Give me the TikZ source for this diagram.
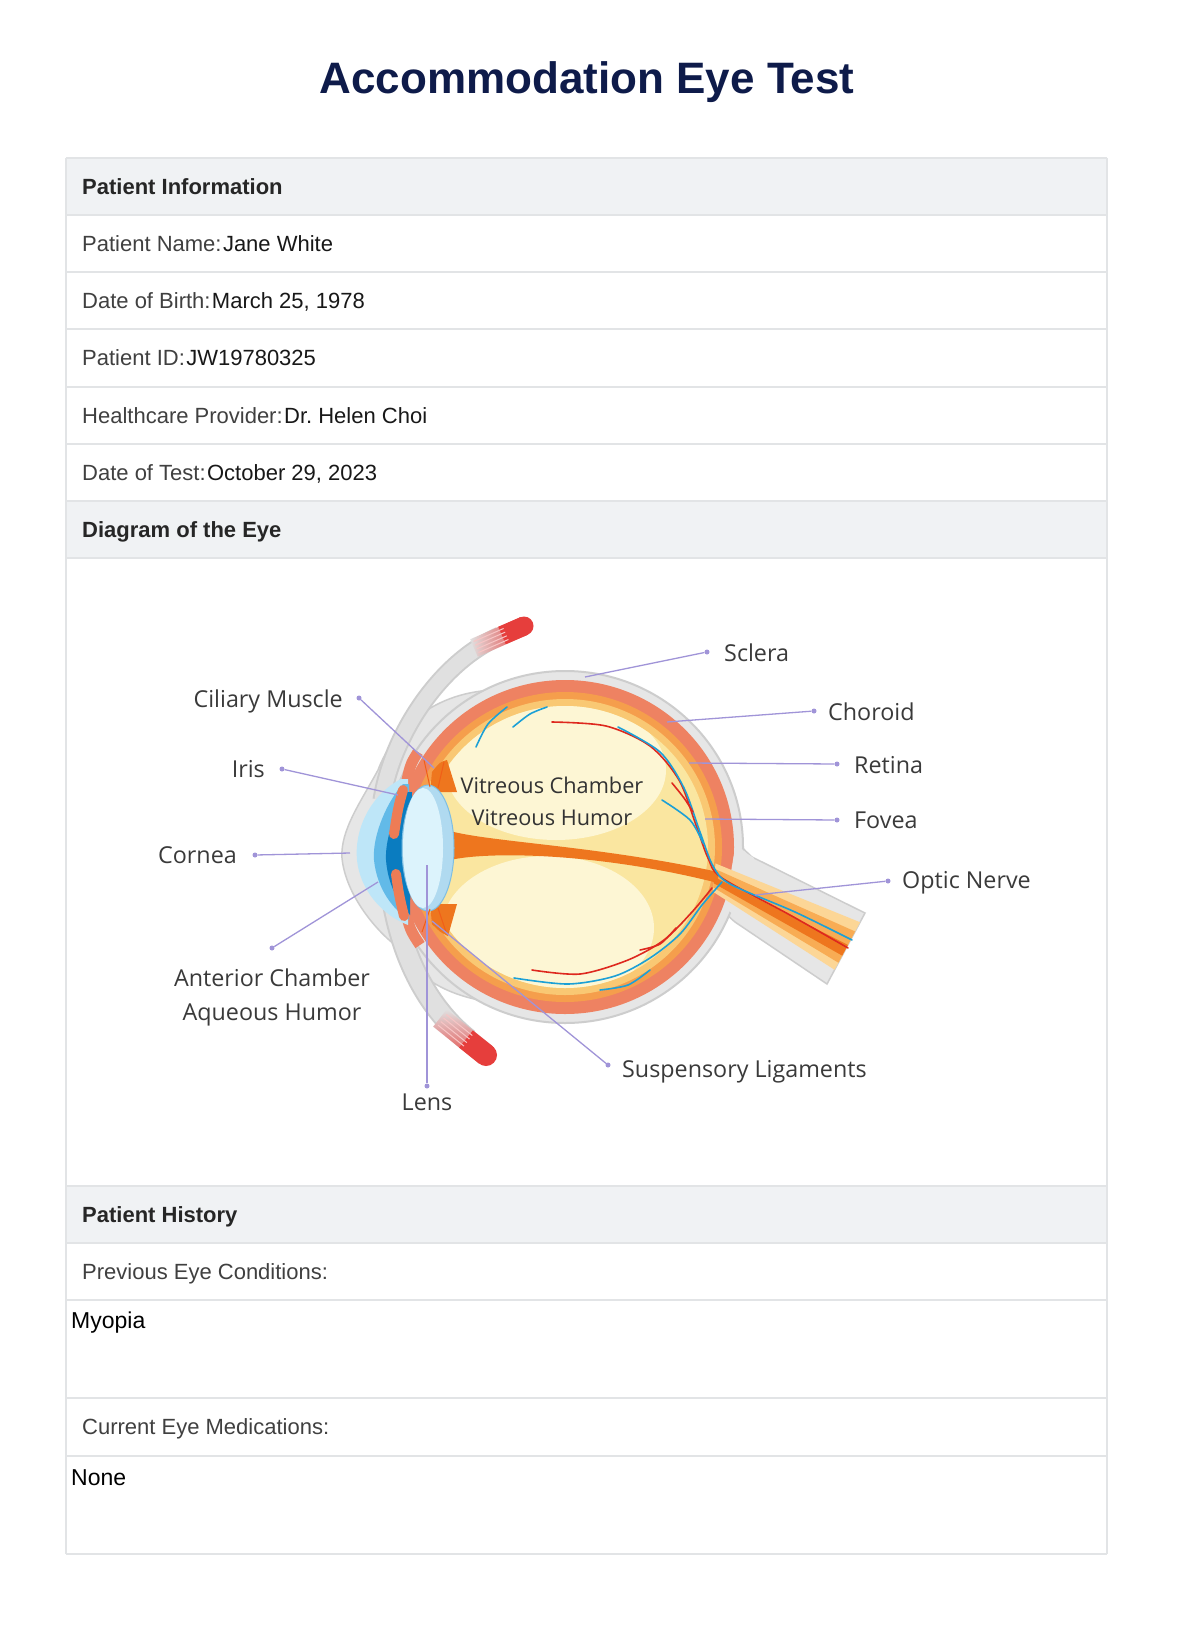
\documentclass[tikz,border=0pt]{standalone}
\usepackage{fontspec}
\setmainfont{Liberation Sans}
\newfontfamily\eyefont{Open Sans}
\usetikzlibrary{calc}

\definecolor{titleblue}{RGB}{14,27,74}
\definecolor{bandfill}{RGB}{240,242,244}
\definecolor{rulegray}{RGB}{226,228,230}
\definecolor{labelgray}{RGB}{64,64,64}
\definecolor{valueblack}{RGB}{24,24,24}
\definecolor{leaderpurple}{RGB}{160,148,216}
\definecolor{eyetext}{RGB}{58,58,58}
\definecolor{sclgray}{RGB}{205,205,205}
\definecolor{sclfill}{RGB}{230,230,230}
\definecolor{choroidred}{RGB}{238,130,98}
\definecolor{layerorange}{RGB}{245,158,76}
\definecolor{retinaorange}{RGB}{249,200,115}
\definecolor{vitreous}{RGB}{250,230,160}
\definecolor{vitreouslight}{RGB}{253,246,212}
\definecolor{bandorange}{RGB}{238,118,30}
\definecolor{nervelight}{RGB}{252,214,150}
\definecolor{nerveorange}{RGB}{248,172,84}
\definecolor{corneablue}{RGB}{190,230,248}
\definecolor{midblue}{RGB}{98,186,232}
\definecolor{darkblue}{RGB}{10,124,192}
\definecolor{lensblue}{RGB}{220,243,252}
\definecolor{lensedge}{RGB}{176,218,240}
\definecolor{irisred}{RGB}{238,124,85}
\definecolor{musclered}{RGB}{230,62,60}
\definecolor{musclegray}{RGB}{224,224,224}
\definecolor{vesselred}{RGB}{222,40,30}
\definecolor{vesselblue}{RGB}{28,160,214}

\tikzset{
  rowline/.style={draw=rulegray, line width=1.5pt},
  headtext/.style={anchor=base west, inner sep=0pt, font=\fontsize{22}{26}\selectfont\bfseries, text=black!85},
  fieldtext/.style={anchor=base west, inner sep=0pt, font=\fontsize{22}{26}\selectfont, text=labelgray},
  valuetext/.style={anchor=base west, inner sep=0pt, font=\fontsize{22}{26}\selectfont, text=valueblack},
  notetext/.style={anchor=base west, inner sep=0pt, font=\fontsize{23}{27}\selectfont, text=black},
  partlabel/.style={inner sep=0pt, font=\eyefont\fontsize{23.3}{28}\selectfont, text=eyetext},
  innerlabel/.style={anchor=base, inner sep=0pt, font=\eyefont\fontsize{21.7}{26}\selectfont, text=black!80},
  leader/.style={draw=leaderpurple, line width=1.3pt},
  leaderdot/.style={circle, fill=leaderpurple, inner sep=0pt, minimum size=5pt},
  vessel/.style={line width=1.6pt, line cap=round},
  fibre/.style={white!70!musclered, line width=1pt},
}

\begin{document}
\begin{tikzpicture}[x=1pt, y=-1pt]
\useasboundingbox (0,0) rectangle (1176,1630);
\fill[white] (0,0) rectangle (1176,1630);

\node[anchor=base, inner sep=0pt, font=\fontsize{44}{52}\selectfont\bfseries, text=titleblue] (title) at (587,93) {Accommodation Eye Test};

% table frame
\fill[bandfill] (66,158) rectangle (1107,215);
\fill[bandfill] (66,501) rectangle (1107,558);
\fill[bandfill] (66,1186) rectangle (1107,1243);
\foreach \y in {158,215,272,329,387,444,501,558,1186,1243,1300,1398,1456,1554}
  \draw[rowline] (66,\y) -- (1107,\y);
\draw[rowline] (66,158) -- (66,1554);
\draw[rowline] (1107,158) -- (1107,1554);

\node[headtext] (infoHead) at (82,194.5) {Patient Information};
\node[fieldtext] (nameL) at (82,251.5) {Patient Name:};
\node[valuetext] (nameV) at ([xshift=1pt]nameL.base east) {Jane White};
\node[fieldtext] (birthL) at (82,308.5) {Date of Birth:};
\node[valuetext] (birthV) at ([xshift=1pt]birthL.base east) {March 25, 1978};
\node[fieldtext] (idL) at (82,365.5) {Patient ID:};
\node[valuetext] (idV) at ([xshift=1pt]idL.base east) {JW19780325};
\node[fieldtext] (providerL) at (82,423.5) {Healthcare Provider:};
\node[valuetext] (providerV) at ([xshift=1pt]providerL.base east) {Dr.\ Helen Choi};
\node[fieldtext] (testL) at (82,480.5) {Date of Test:};
\node[valuetext] (testV) at ([xshift=1pt]testL.base east) {October 29, 2023};
\node[headtext] (diagHead) at (82,537.5) {Diagram of the Eye};
\node[headtext] (histHead) at (82,1222.5) {Patient History};
\node[fieldtext] (prevL) at (82,1279.5) {Previous Eye Conditions:};
\node[notetext] (prevV) at (71,1328) {Myopia};
\node[fieldtext] (medsL) at (82,1434.5) {Current Eye Medications:};
\node[notetext] (medsV) at (71,1485) {None};

% front sclera and muscles
\filldraw[fill=sclfill, draw=sclgray, line width=1.5pt] (505,690) .. controls (440,688) and (395,725) .. (378,770) .. controls (362,800) and (340,830) .. (342,858) .. controls (345,890) and (370,925) .. (395,945) .. controls (415,975) and (445,998) .. (500,1003) -- (520,850) -- cycle;
\draw[line width=19pt, sclgray] (382,800) .. controls (392,735) and (440,662) .. (500,636);
\draw[line width=15pt, musclegray] (382,800) .. controls (392,735) and (440,662) .. (500,636);
\shade[left color=musclegray, right color=musclered] (470.2,639.3) -- (520.2,617.3) -- (527.8,634.7) -- (477.8,656.7) -- cycle;
\fill[musclered] (524,626) circle (9.5pt);
\draw[musclered, line width=19pt] (502,635.5) -- (524,626);
\foreach \d in {-6,-2,2,6}
  \draw[fibre] ($(476,647)+(0.4*\d,0.92*\d)$) -- ($(506,634)+(0.4*\d,0.92*\d)$);
\draw[line width=23pt, sclgray] (392,895) .. controls (402,960) and (430,1010) .. (468,1040);
\draw[line width=19pt, musclegray] (392,895) .. controls (402,960) and (430,1010) .. (468,1040);
\shade[top color=musclegray, bottom color=musclered] (433.2,1026.6) -- (479.2,1063.6) -- (492.8,1046.4) -- (446.8,1009.4) -- cycle;
\fill[musclered] (486,1055) circle (11pt);
\draw[musclered, line width=22pt] (466,1039) -- (486,1055);
\foreach \d in {-7,-2.5,2,6.5}
  \draw[fibre] ($(442,1020)+(-0.62*\d,0.78*\d)$) -- ($(468,1041)+(-0.62*\d,0.78*\d)$);

% optic nerve sheath and globe
\filldraw[fill=sclfill, draw=sclgray, line width=1.5pt] (736,826) .. controls (740,846) .. (752,857) -- (865,913) -- (827,984) -- (735,922) .. controls (728,916) .. (722,905) -- cycle;
\filldraw[fill=sclfill, draw=sclgray, line width=2pt] (565,847) ellipse [x radius=178pt, y radius=176pt];
\fill[choroidred] (565,847) ellipse [x radius=169pt, y radius=167pt];
\fill[layerorange] (565,847) ellipse [x radius=157pt, y radius=155pt];
\fill[retinaorange] (565,847) ellipse [x radius=150pt, y radius=148pt];
\fill[vitreous] (565,847) ellipse [x radius=143pt, y radius=141pt];
\begin{scope}
\clip (565,847) ellipse [x radius=143pt, y radius=141pt];
\fill[vitreouslight] (556,770) ellipse [x radius=110pt, y radius=70pt];
\fill[vitreouslight] (548,928) ellipse [x radius=106pt, y radius=72pt];
\end{scope}
\fill[sclfill] (737,836) .. controls (741,850) .. (754,858) -- (740,918) .. controls (733,914) .. (725,908) -- cycle;

% nerve fibres
\coordinate (nS1) at (716,858);
\coordinate (nS2) at (712,900);
\coordinate (nE1) at (865,913);
\coordinate (nE2) at (827,984);
\foreach \a/\b/\col in {0.13/0.80/nervelight, 0.26/0.70/nerveorange, 0.45/0.60/bandorange}
  \fill[\col] ($(nS1)!\a!(nS2)$) -- ($(nE1)!\a!(nE2)$) -- ($(nE1)!\b!(nE2)$) -- ($(nS1)!\b!(nS2)$) -- cycle;
\fill[bandorange] (450,831) .. controls (490,842) and (600,846) .. (718,872) -- (718,883) .. controls (600,853) and (490,851) .. (450,860) -- cycle;

% vessels
\draw[vesselred, vessel] plot[smooth] coordinates {(552,722) (606,726) (650,746) (679,780) (696,825) (708,858) (722,878) (790,915) (848,948)};
\draw[vesselblue, vessel] plot[smooth] coordinates {(618,727) (660,752) (684,788) (700,832) (713,866) (730,884) (795,912) (852,940)};
\draw[vesselblue, vessel] plot[smooth] coordinates {(476,747) (488,724) (507,707)};
\draw[vesselblue, vessel] plot[smooth] coordinates {(513,727) (530,714) (547,707)};
\draw[vesselred, vessel] plot[smooth] coordinates {(672,783) (684,798) (693,812)};
\draw[vesselblue, vessel] plot[smooth] coordinates {(662,800) (690,820) (703,843)};
\draw[vesselblue, vessel] plot[smooth] coordinates {(514,978) (568,984) (615,976) (650,958) (680,934) (702,905) (722,882)};
\draw[vesselred, vessel] plot[smooth] coordinates {(532,970) (580,974) (628,960) (664,940) (692,912) (712,888)};
\draw[vesselblue, vessel] plot[smooth] coordinates {(600,990) (628,985) (650,970)};
\draw[vesselred, vessel] plot[smooth] coordinates {(640,950) (660,944) (676,928)};

% ciliary body, iris, cornea, lens
\fill[bandorange] (432,772) .. controls (440,762) .. (447,760) -- (457,792) -- (430,792) -- cycle;
\fill[bandorange] (430,904) -- (457,904) -- (448,936) .. controls (440,932) .. (432,924) -- cycle;
\draw[choroidred, line width=11pt] (418,752) .. controls (410,765) .. (405,790);
\draw[choroidred, line width=11pt] (404,905) .. controls (410,930) .. (420,945);
\fill[corneablue] (401,779) .. controls (370,795) and (354,830) .. (357,860) .. controls (360,890) and (382,915) .. (408,925) -- (408,779) -- cycle;
\fill[midblue] (403,784) .. controls (388,800) and (372,835) .. (374,860) .. controls (377,890) and (394,910) .. (409,920) -- (409,784) -- cycle;
\fill[darkblue] (405,792) .. controls (394,815) and (385,840) .. (386,860) .. controls (388,885) and (398,902) .. (410,915) -- (412,792) -- cycle;
\draw[irisred, line width=10pt, line cap=round] (403,790) .. controls (398,808) .. (394,834);
\draw[irisred, line width=10pt, line cap=round] (396,874) .. controls (399,895) .. (404,916);
\filldraw[fill=lensedge, draw=lensedge!70!darkblue, line width=1pt] (428,848) ellipse [x radius=26pt, y radius=63pt];
\fill[lensblue] (423,848) ellipse [x radius=20pt, y radius=60pt];
\foreach \p/\q in {{(430,787)}/{(424,760)}, {(438,788)}/{(444,762)}, {(430,909)}/{(422,932)}, {(438,908)}/{(446,932)}}
  \draw[bandorange!80!red, line width=1pt] \p -- \q;

% labels and leaders
\node[innerlabel] (vitChamber) at (552,793) {Vitreous Chamber};
\node[innerlabel] (vitHumor) at (552,825) {Vitreous Humor};

\node[partlabel, anchor=base west] (sclera) at (724,661) {Sclera};
\node[partlabel, anchor=base west] (choroid) at (828,720) {Choroid};
\node[partlabel, anchor=base west] (retina) at (854,773) {Retina};
\node[partlabel, anchor=base west] (fovea) at (854,828) {Fovea};
\node[partlabel, anchor=base west] (opticNerve) at (902,888) {Optic Nerve};
\node[partlabel, anchor=base east] (ciliary) at (343,707) {Ciliary Muscle};
\node[partlabel, anchor=base east] (iris) at (265,777) {Iris};
\node[partlabel, anchor=base east] (cornea) at (237,863) {Cornea};
\node[partlabel, anchor=base] (anterior) at (272,986) {Anterior Chamber};
\node[partlabel, anchor=base] (aqueous) at (272,1020) {Aqueous Humor};
\node[partlabel, anchor=base] (lens) at (427,1110) {Lens};
\node[partlabel, anchor=base west] (suspensory) at (622,1077) {Suspensory Ligaments};

\foreach \name/\dx/\dy/\tx/\ty in {sclera/707/652/585/677, choroid/814/711/667/722, retina/837/764/689/763, fovea/837/820/705/819, opticNerve/888/881/755/895, ciliary/359/698/434/768, iris/282/769/398/795, cornea/255/855/350/853, anterior/272/948/378/882, lens/427/1086/427/865, suspensory/608/1065/432/921}{
  \node[leaderdot] (\name Dot) at (\dx,\dy) {};
  \coordinate (\name Pt) at (\tx,\ty);
  \draw[leader] (\name Dot) -- (\name Pt);
}
\end{tikzpicture}
\end{document}
